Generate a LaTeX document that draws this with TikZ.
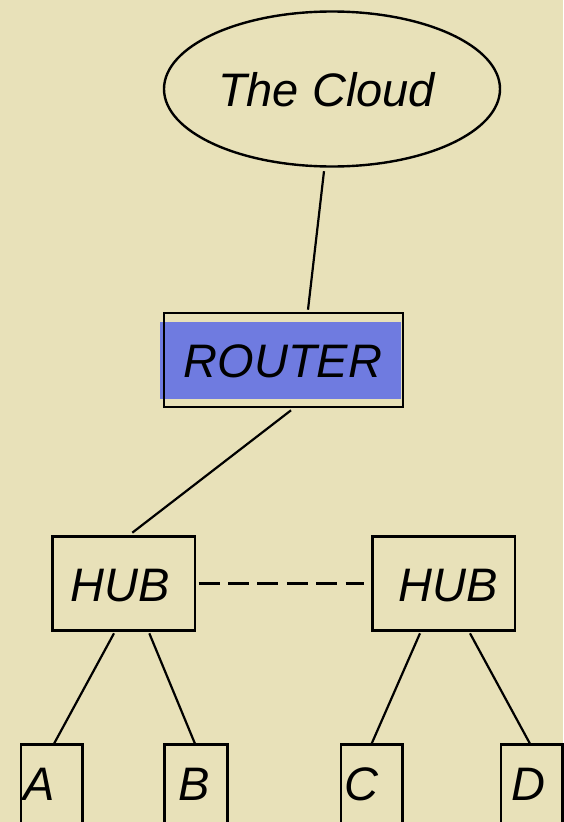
\documentclass[tikz,border=0pt]{standalone}
\usepackage{fontspec}
\setmainfont{Liberation Sans}
\usetikzlibrary{shapes.geometric}
\definecolor{bg}{RGB}{232,225,185}
\definecolor{routerblue}{RGB}{111,123,224}
\tikzset{
  box/.style={draw=black, line width=2.6pt, rectangle, inner sep=0pt},
  cloudshape/.style={draw=black, line width=2.4pt, ellipse, inner sep=0pt, minimum width=336pt, minimum height=155pt},
  lbl/.style={anchor=base, inner sep=0pt, font=\fontsize{47}{52}\selectfont\itshape},
  link/.style={line width=2.2pt, line cap=butt},
  dashlink/.style={line width=2.2pt, dash pattern=on 21pt off 8.4pt}
}
\begin{document}
\begin{tikzpicture}[x=1pt,y=-1pt]
\fill[bg] (0,0) rectangle (563,822);
\useasboundingbox (0,0) rectangle (563,822);
% cloud
\node[cloudshape] (cloud) at (332,89) {};
\node[lbl] (cloudtxt) at (326.5,106.7) {The Cloud};
% router
\fill[routerblue] (160,322) rectangle (401,399);
\node[box, minimum width=239pt, minimum height=94pt] (router) at (283.5,360) {};
\node[lbl] (routertxt) at (283,377) {ROUTER};
% hubs
\node[box, minimum width=142.7pt, minimum height=93.6pt] (hubL) at (123.7,583.5) {};
\node[lbl] (hubLtxt) at (120,601.7) {HUB};
\node[box, minimum width=142.3pt, minimum height=93.6pt] (hubR) at (443.8,583.5) {};
\node[lbl] (hubRtxt) at (447.8,601.7) {HUB};
% end boxes
\node[box, minimum width=61.7pt, minimum height=78.3pt] (A) at (51.9,783.9) {};
\node[lbl] (Atxt) at (39,800) {A};
\node[box, minimum width=63pt, minimum height=78.3pt] (B) at (195.8,783.9) {};
\node[lbl] (Btxt) at (194,800) {B};
\node[box, minimum width=61.7pt, minimum height=78.3pt] (C) at (371.9,783.9) {};
\node[lbl] (Ctxt) at (361,800) {C};
\node[box, minimum width=61.3pt, minimum height=78.3pt] (D) at (531.7,783.9) {};
\node[lbl] (Dtxt) at (528.7,800) {D};
% links
\draw[link] ([shift={(-8,3.5)}]cloud.south) -- ([shift={(24.5,-2)}]router.north);
\draw[link] ([shift={(7.5,2)}]router.south) -- ([shift={(8.6,-2.7)}]hubL.north);
\draw[dashlink] ([shift={(2.3,0)}]hubL.east) -- ([shift={(-7.7,0)}]hubR.west);
\draw[link] ([shift={(-9.7,1.7)}]hubL.south) -- ([shift={(2.1,0.3)}]A.north);
\draw[link] ([shift={(25.6,1.7)}]hubL.south) -- ([shift={(-0.8,0.3)}]B.north);
\draw[link] ([shift={(-23.8,1.7)}]hubR.south) -- ([shift={(-0.3,0.3)}]C.north);
\draw[link] ([shift={(26.2,1.7)}]hubR.south) -- ([shift={(-1.7,0.3)}]D.north);
\end{tikzpicture}
\end{document}
